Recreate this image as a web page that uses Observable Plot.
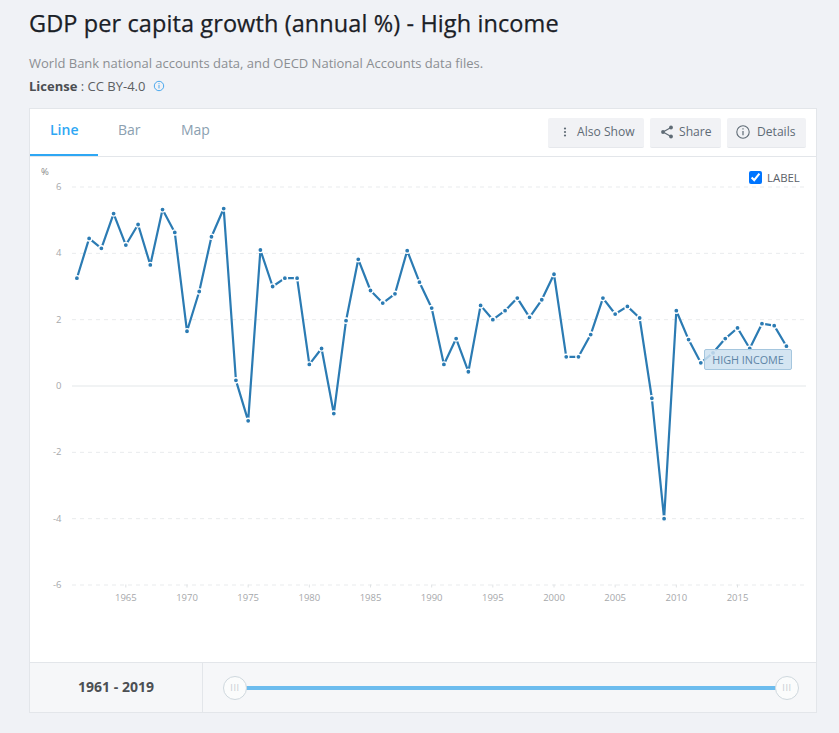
<!DOCTYPE html>
<html><head><meta charset="utf-8">
<script src="https://cdn.jsdelivr.net/npm/d3@7"></script>
<script src="https://cdn.jsdelivr.net/npm/@observablehq/plot@0.6"></script>
<style>
html,body{margin:0;padding:0;background:#f0f2f6;font-family:"Open Sans",sans-serif;width:839px;height:733px;overflow:hidden;position:relative}
.a{position:absolute;white-space:nowrap}
#title{left:29px;top:6px;font-size:23.5px;line-height:34px;color:#1a2026;font-weight:500;letter-spacing:.1px;-webkit-text-stroke:.25px #1a2026}
#sub{left:29px;top:54px;font-size:13px;line-height:18px;color:#8b8e92}
#lic{left:29px;top:77px;font-size:13px;line-height:18px;color:#5c5f63}
#lic b{font-weight:700;color:#4b4e52}
#card{left:29px;top:108px;width:786px;height:603px;background:#fff;border:1px solid #e3e6ea}
.tab{top:120px;font-size:14px;line-height:20px;color:#8ba0b0}
#tabline{left:30px;top:156px;width:786px;height:1px;background:#e3e6ea}
#under{left:30px;top:154px;width:68px;height:2px;background:#2ea7f4}
.btn{top:118px;height:30px;background:#f1f2f5;border-bottom:1px solid #e6e8ec;border-radius:2px;font-size:12.1px;line-height:27px;color:#5f6b75;box-sizing:border-box}
.btn svg{position:absolute;top:6px}
.btn span{position:absolute;top:0}
#chart{left:30px;top:157px}
#chart svg{display:block}
#pct{left:41px;top:166px;font-size:9.5px;line-height:12px;color:#888}
#lab{left:767px;top:170px;font-size:11.4px;line-height:15px;color:#5a6068}
#chk{left:749px;top:171px;width:13px;height:13px;margin:0}
#tip{left:704px;top:349px;width:86px;height:19px;background:rgba(205,225,240,.85);border:1px solid #a5c6de;border-radius:2px;font-size:10.8px;line-height:19px;text-align:center;color:#5d84a6}
#foot{left:30px;top:662px;width:786px;height:49px;background:#f6f7f9;border-top:1px solid #e3e6ea}
#div{left:202px;top:662px;width:1px;height:50px;background:#e3e6ea}
#range{left:30px;top:678px;width:172px;text-align:center;font-size:14px;line-height:18px;font-weight:700;color:#4c4f53}
#track{left:240px;top:686px;width:540px;height:4px;background:#6cbcee}
.h{top:676px;width:22px;height:22px;border:1px solid #cfd8de;border-radius:50%;background:#fbfcfc;text-align:center;font-size:9px;line-height:21px;color:#c4ccd2;letter-spacing:.6px}
</style></head><body>
<div class="a" id="title">GDP per capita growth (annual %) - High income</div>
<div class="a" id="sub">World Bank national accounts data, and OECD National Accounts data files.</div>
<div class="a" id="lic"><b>License</b> : CC BY-4.0 <svg width="12" height="12" viewBox="0 0 12 12" style="vertical-align:-1px;margin-left:4px"><circle cx="6" cy="6" r="4.7" fill="none" stroke="#4aa8ee"/><path d="M6 5v3.4M6 3.2v1" stroke="#4aa8ee"/></svg></div>
<div class="a" id="card"></div>
<div class="a tab" style="left:50px;color:#2ea7f4;font-weight:600">Line</div>
<div class="a tab" style="left:118px">Bar</div>
<div class="a tab" style="left:181px">Map</div>
<div class="a" id="tabline"></div><div class="a" id="under"></div>
<div class="a btn" style="left:548px;width:96px"><svg width="16" height="16" style="left:9px"><g fill="#5f6b75"><circle cx="8" cy="4.5" r="1.1"/><circle cx="8" cy="8" r="1.1"/><circle cx="8" cy="11.5" r="1.1"/></g></svg><span style="left:29px">Also Show</span></div>
<div class="a btn" style="left:650px;width:71px"><svg width="16" height="16" style="left:9px"><path d="M12 3.5 4 8l8 4.5" fill="none" stroke="#5f6b75" stroke-width="1.2"/><g fill="#5f6b75"><circle cx="12" cy="3.5" r="1.9"/><circle cx="4" cy="8" r="1.9"/><circle cx="12" cy="12.5" r="1.9"/></g></svg><span style="left:29px">Share</span></div>
<div class="a btn" style="left:727px;width:79px"><svg width="16" height="16" style="left:8px"><circle cx="8" cy="8" r="6.2" fill="none" stroke="#5f6b75" stroke-width="1.1"/><path d="M8 7v4.2M8 4.3v1.3" stroke="#5f6b75" stroke-width="1.2"/></svg><span style="left:30px">Details</span></div>
<div class="a" id="chart"></div>
<div class="a" id="pct">%</div>
<input class="a" id="chk" type="checkbox" checked>
<div class="a" id="lab">LABEL</div>
<div class="a" id="tip">HIGH INCOME</div>
<div class="a" id="foot"></div><div class="a" id="div"></div>
<div class="a" id="range">1961 - 2019</div>
<div class="a" id="track"></div>
<div class="a h" style="left:223px">III</div>
<div class="a h" style="left:775px">III</div>
<script>
const years = d3.range(1961, 2020);
const growth = [3.25,4.45,4.15,5.2,4.25,4.87,3.65,5.32,4.63,1.65,2.85,4.5,5.35,0.17,-1.05,4.1,3.0,3.25,3.25,0.65,1.13,-0.83,1.97,3.82,2.88,2.5,2.78,4.08,3.13,2.35,0.65,1.43,0.43,2.43,2.0,2.27,2.65,2.07,2.6,3.37,0.88,0.88,1.55,2.65,2.17,2.4,2.05,-0.37,-4.0,2.27,1.4,0.7,1.0,1.43,1.75,1.13,1.88,1.82,1.2];
const yTicks = [-6,-4,-2,2,4,6];
const xTicks = [1965,1970,1975,1980,1985,1990,1995,2000,2005,2010,2015];
const rows = years.map((year,i)=>({year,value:growth[i]}));
const plot = Plot.plot({
  width:786,height:505,marginLeft:42,marginRight:10,marginTop:29.5,marginBottom:77.5,
  style:{fontFamily:"'Open Sans',sans-serif",background:"transparent",fontSize:"10px"},
  x:{domain:[1960.64,2020.64],label:null},
  y:{domain:[-6,6],label:null},
  marks:[
    Plot.ruleY(yTicks,{stroke:"#e9ebed",strokeDasharray:"4 4",strokeWidth:1}),
    Plot.ruleY([0],{stroke:"#eceff1",strokeWidth:1.5}),
    Plot.axisY({ticks:[...yTicks,0],tickSize:0,tickPadding:11,color:"#a6a8ab",tickFormat:d=>String(d),fontSize:9.5,label:null}),
    Plot.axisX({ticks:xTicks,tickSize:3,tickPadding:6,color:"#a6a8ab",stroke:"#dfe2e4",tickFormat:d=>String(d),fontSize:9.5,label:null}),
    Plot.line(rows,{x:"year",y:"value",stroke:"#2b7bb3",strokeWidth:2.2,strokeLinejoin:"miter"}),
    Plot.dot(rows,{x:"year",y:"value",r:2.6,fill:"#2b7bb3",stroke:"#fff",strokeWidth:1.4})
  ]
});
document.getElementById("chart").appendChild(plot);
</script>
</body></html>
